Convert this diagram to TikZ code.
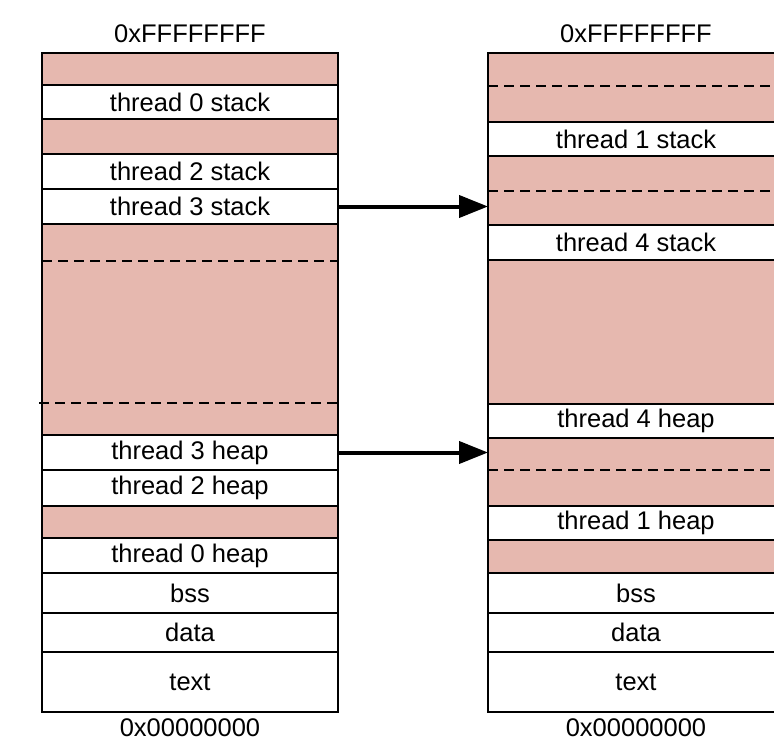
\documentclass[tikz,border=0pt]{standalone}
\usepackage{fontspec}
\setmainfont{Liberation Sans}
\usetikzlibrary{arrows.meta}
\definecolor{gapfill}{HTML}{E6B8AF}
\begin{document}
\begin{tikzpicture}[x=1pt,y=-1pt,
  seg/.style={draw=black, line width=2pt, inner sep=0pt, outer sep=0pt,
    minimum width=296pt, anchor=north west, font=\fontsize{25.5}{30}\selectfont},
  used/.style={seg, fill=white},
  free/.style={seg, fill=gapfill},
  sep/.style={dash pattern=on 10pt off 6pt, line width=2pt},
  link/.style={line width=4pt, -{Triangle[length=29pt,width=22pt]}},
  addr/.style={anchor=base, font=\fontsize{25.5}{30}\selectfont}]
\useasboundingbox (0,0) rectangle (774,741);
% left column
\node[free, minimum height=32pt]  (L1)  at (42,53)  {};
\node[used, minimum height=34pt]  (L2)  at (42,85)  {thread 0 stack};
\node[free, minimum height=35pt]  (L3)  at (42,119) {};
\node[used, minimum height=35pt]  (L4)  at (42,154) {thread 2 stack};
\node[used, minimum height=35pt]  (L5)  at (42,189) {thread 3 stack};
\node[free, minimum height=211pt] (L6)  at (42,224) {};
\node[used, minimum height=35pt]  (L7)  at (42,435) {thread 3 heap};
\node[used, minimum height=36pt]  (L8)  at (42,470) {thread 2 heap};
\node[free, minimum height=32pt]  (L9)  at (42,506) {};
\node[used, minimum height=35pt]  (L10) at (42,538) {thread 0 heap};
\node[used, minimum height=40pt]  (L11) at (42,573) {bss};
\node[used, minimum height=39pt]  (L12) at (42,613) {data};
\node[used, minimum height=60pt]  (L13) at (42,652) {text};
% right column
\node[free, minimum height=69pt]  (R1)  at (488,53)  {};
\node[used, minimum height=34pt]  (R2)  at (488,122) {thread 1 stack};
\node[free, minimum height=69pt]  (R3)  at (488,156) {};
\node[used, minimum height=35pt]  (R4)  at (488,225) {thread 4 stack};
\node[free, minimum height=144pt] (R5)  at (488,260) {};
\node[used, minimum height=34pt]  (R6)  at (488,404) {thread 4 heap};
\node[free, minimum height=68pt]  (R7)  at (488,438) {};
\node[used, minimum height=34pt]  (R8)  at (488,506) {thread 1 heap};
\node[free, minimum height=33pt]  (R9)  at (488,540) {};
\node[used, minimum height=40pt]  (R10) at (488,573) {bss};
\node[used, minimum height=39pt]  (R11) at (488,613) {data};
\node[used, minimum height=60pt]  (R12) at (488,652) {text};
% dashed separators
\draw[sep] (42,260.7) -- (338,260.7);
\draw[sep] (39,403) -- (338,403);
\draw[sep] (488,86) -- (784,86);
\draw[sep] (488,191) -- (784,191);
\draw[sep] (488,470) -- (784,470);
% address labels
\node[addr] (topL) at (190,42.7) {0xFFFFFFFF};
\node[addr] (topR) at (636,42.7) {0xFFFFFFFF};
\node[addr] (botL) at (190,736) {0x00000000};
\node[addr] (botR) at (636,736) {0x00000000};
% arrows
\draw[link] (L5.east) -- (L5.east -| R3.west);
\draw[link] (L7.east) -- (L7.east -| R7.west);
\end{tikzpicture}
\end{document}
